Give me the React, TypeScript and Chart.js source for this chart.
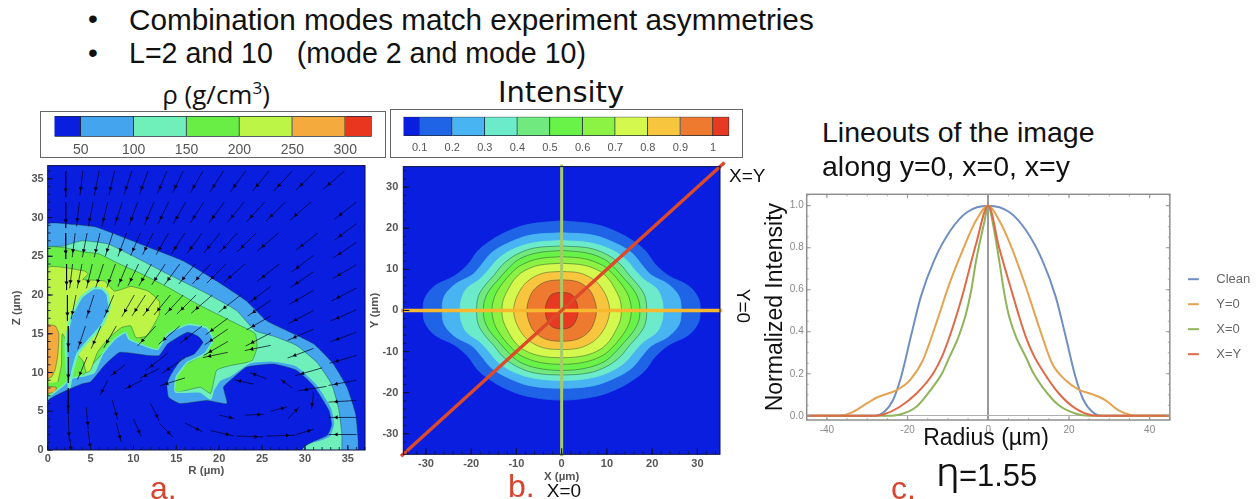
import React, { useEffect, useRef } from "react";
import { Chart, registerables } from "chart.js";

Chart.register(...registerables);

type P = [number, number];

// ---------- Panel c: lineouts ----------
const cleanLine: P[] = [[-45,0],[-30,0],[-28.1,0],[-25.7,0.02],[-23.6,0.075],[-21.6,0.186],[-19.1,0.384],[-16.7,0.567],[-13.4,0.74],[-9.3,0.884],[-5.2,0.97],[0,1],[5.2,0.97],[9.3,0.884],[13.4,0.74],[16.7,0.567],[19.1,0.384],[21.6,0.186],[23.6,0.075],[25.7,0.02],[28.1,0],[30,0],[45,0]];
const y0Line: P[] = [[-45,0],[-38,0],[-35.8,0.003],[-33.4,0.02],[-30,0.06],[-27.6,0.087],[-22.7,0.122],[-19.4,0.17],[-16.2,0.265],[-12.9,0.44],[-9.6,0.63],[-6.3,0.79],[-3,0.93],[0,1],[2.7,0.93],[6,0.79],[9.3,0.614],[13.4,0.376],[15.8,0.25],[19.1,0.17],[22.4,0.125],[25.7,0.103],[29,0.075],[32.2,0.027],[35.5,0.003],[38,0],[45,0]];
const x0Line: P[] = [[-45,0],[-25,0],[-21.9,0.006],[-17.8,0.043],[-13.7,0.138],[-11.5,0.2],[-9.6,0.28],[-7.5,0.37],[-5.5,0.487],[-4.2,0.6],[-3,0.74],[-1,0.92],[0,1],[1.1,0.92],[2.7,0.74],[4,0.58],[5.2,0.47],[7,0.37],[9.3,0.28],[11,0.21],[13.4,0.138],[17.5,0.05],[21.6,0.011],[25,0],[45,0]];
const xyLine: P[] = [[-45,0],[-29,0],[-26,0.006],[-21.9,0.043],[-17.8,0.106],[-13.7,0.2],[-11.5,0.28],[-9.6,0.376],[-8,0.47],[-6.3,0.58],[-3,0.82],[0,1],[2.7,0.8],[6,0.58],[7.7,0.47],[9.3,0.376],[11.2,0.29],[13.4,0.217],[17.5,0.106],[21.6,0.035],[25.7,0.003],[29,0],[45,0]];
const lineNames = ["Clean", "Y=0", "X=0", "X=Y"];
const lineColors = ["#6f8fc4", "#e3a350", "#8fb45a", "#de6a48"];
const xTicksC = [-40, -20, 0, 20, 40];
const yTicksC = [0, 0.2, 0.4, 0.6, 0.8, 1];

// ---------- Panel b: intensity contours (one quadrant of each) ----------
const contoursB: P[][] = [
  [[0,21.8],[7.5,20.9],[12.6,18.9],[16.3,16.5],[18.5,14.5],[20.7,11.2],[23.7,8.4],[28,6],[30.2,3],[30.6,0]],
  [[0,18.9],[7,18.3],[12,16.3],[15.5,14],[17.8,11],[19.8,8.6],[23.5,6.4],[25.9,3.5],[26.4,0]],
  [[0,17],[6,16.5],[10.5,15],[14,12.6],[16.2,9.8],[18.2,7.5],[21,5.3],[22.2,2.5],[22.4,0]],
  [[0,15.7],[6,15.2],[10,13.6],[13,11.2],[15,8.5],[16.8,6.3],[18.4,3.5],[18.8,0]],
  [[0,14.6],[5.5,14],[9.5,12.4],[12,10],[14,7.5],[15.8,5.2],[17,2.6],[17.3,0]],
  [[0,13.1],[5,12.6],[9,11],[11.2,9],[13,6.7],[14.5,4.2],[15.2,2],[15.4,0]],
  [[0,11.5],[5,11],[8.5,9.5],[10.5,7.5],[11.8,5.2],[12.9,2.6],[13.2,0]],
  [[0,9.5],[4,9.1],[7.2,7.4],[9,5.2],[10.2,2.5],[10.6,0]],
  [[0,7.5],[3.5,7],[6,5.2],[7.2,2.8],[7.7,0]],
  [[0,4.5],[2.2,3.9],[3.3,2],[3.6,0]],
];
const colorsB = ["#1f63e6","#49b4f2","#6cebca","#70e97e","#69f248","#8cf243","#d4f84e","#f8c63e","#ee7a30","#e83a22"];
const barEdgesB = [0.05,0.1,0.2,0.3,0.4,0.5,0.6,0.7,0.8,0.9,1,1.05];
const barColorsB = ["#0a1ee0","#1f63e6","#49b4f2","#6cebca","#70e97e","#69f248","#8cf243","#d4f84e","#f8c63e","#ee7a30","#e83a22"];
const barTicksB = [0.1,0.2,0.3,0.4,0.5,0.6,0.7,0.8,0.9,1];
const ticksB = [-30,-20,-10,0,10,20,30];
const lineY0: P[] = [[-35.5,0],[35.5,0]];
const lineX0: P[] = [[0,35.5],[0,-35.5]];
const lineXY: P[] = [[-35.5,-35.5],[36,36]];

// ---------- Panel a: density regions (R, Z in µm) ----------
const shellA: P[] = [[0,0],[0,29.1],[3,29.1],[5.5,28.8],[8,27.8],[11.9,26.1],[15.8,24.4],[19.7,21.8],[23.2,19.2],[25.5,16.7],[27.9,15.4],[31,13.7],[33.3,11.1],[34.9,8.1],[35.9,4.7],[36.2,1.3],[36.2,0]];
const aquaA: P[] = [[0,0],[0,26.1],[1.7,26.3],[4,27],[7,26.6],[10,25],[14,22.7],[18.7,20.1],[22,18],[24.2,15.4],[26.3,14.7],[29,13.5],[31.4,11.3],[33.1,8.5],[33.9,5.5],[34.3,2.1],[34.3,0]];
const greenA: P[] = [[0,6.5],[0,26.1],[2,26.1],[4,25.6],[6,25.3],[8,24.2],[11,22.7],[14,21],[17.5,18.8],[22,16.3],[24.2,15],[24.4,13.2],[23.8,11.5],[21.3,10.9],[19.7,10.3],[19,7.3],[17.8,8.1],[16.2,7.7],[14.9,7.5],[14.9,9.4],[16.2,11.1],[18.3,12.4],[19.3,14.3],[18.5,15.8],[16.3,16.2],[14,15],[12.8,13],[10,14],[8,14],[6,12],[4,9.5],[2.5,8],[1,7]];
const yellowA: P[] = [[0,8.6],[0,23.5],[4.3,23.1],[4.7,22.7],[4.1,22],[6.6,21.8],[7.8,20.5],[9.7,21.1],[11.7,20.5],[13,19.2],[13,17.5],[12.3,16],[11.5,14.7],[10.3,14.5],[9.7,16],[8.6,15.8],[7,14.3],[5.8,12.6],[5,10.3],[4.5,10],[4.1,11.5],[2.5,13.5],[1.7,15],[1.6,11],[1.2,8.8]];
const orangeA: P[] = [[0,16.2],[0.9,16],[1.3,15],[1.2,12.5],[0.9,10.5],[0.5,9.5],[0,9.2]];
const orangeLowA: P[] = [[0,8.2],[1,8.1],[0.9,7.5],[0,7.3]];
const marginA: P[] = [[0,0],[0,6.6],[1.8,8.3],[2.6,9.2],[4.3,9.6],[5.4,10],[6.4,12.4],[7.8,14.3],[9.1,15.2],[9.5,14.3],[11.7,13.3],[12.8,13],[14,15],[16.3,16.2],[18.5,15.8],[19.3,14.3],[18.3,12.4],[16.3,11.3],[15,9.4],[14.9,7.5],[17.8,7.5],[19,6.6],[19.3,7.7],[20.1,9],[21.3,9.6],[23.6,11.3],[26.3,11.5],[29,10.9],[31.4,8.5],[33.1,5.5],[33.5,3.4],[33,1.7],[31.8,1.1],[30.2,0.6],[29.8,0]];
const cavityA: P[] = [[0,0],[0,6.3],[2.2,7.7],[3.9,8.5],[5,8.8],[6.6,10.9],[8.4,12.6],[11.7,12.2],[13,12.2],[14,13.7],[16.3,15.2],[17.5,14.7],[18.1,13.9],[17.1,12.4],[15.6,11.7],[14.4,9.8],[13.9,8.5],[14.1,6.8],[15.4,6],[18.6,6.4],[20.9,6],[20.5,8.1],[21.3,9],[23.2,10.7],[26.3,11.1],[29,10.3],[31,8.3],[32.8,5.1],[33.1,3.2],[32.6,1.9],[31,1.1],[30,0.5],[29.6,0]];
const tearA: P[] = [[7,20.1],[7.2,18.4],[6.4,16.2],[4.9,14.3],[3.5,12.4],[2.9,10.2],[2.5,8.1],[2.1,13.7],[2.7,17.1],[3.9,19.7],[5.4,20.9],[6.4,20.8],[7,20.1]];
const barEdgesA = [25,50,100,150,200,250,300,325];
const barColorsA = ["#0a1ee0","#45a4ee","#6fefb9","#69ee46","#bcf546","#f4aa3c","#e8361f"];
const barTicksA = [50,100,150,200,250,300];
const xTicksA = [0,5,10,15,20,25,30,35];
const yTicksA = [0,5,10,15,20,25,30,35];
// velocity arrows: tail R, tail Z, dR, dZ
const arrowsA: number[][] = [
  [2.1,36,0,-3],[2.1,32,0,-3],[2.1,28,0,-3],[2.2,24,0,-3],[2.3,20,0,-3],[2.4,16,0,-3],[2.4,12,0,-3],[2.4,8,0,-3],[2.4,4.5,0.1,-3],[2.6,1.5,0.1,-1.5],
  [4.1,36,-0.3,-2.8],[3.7,32,-0.3,-2.8],[3.2,28,-0.3,-2.8],[2.9,24,-0.3,-2.8],
  [6,36,-0.5,-2.8],[5.3,32,-0.5,-2.8],[4.6,28,-0.5,-2.8],[4,24,-0.5,-2.8],[3.3,20,-0.5,-2.8],
  [7.8,36,-0.6,-2.8],[7,32,-0.6,-2.8],[6.1,28,-0.6,-2.8],[5.2,24,-0.6,-2.8],
  [9.8,36,-0.8,-2.7],[8.7,32,-0.8,-2.7],[7.6,28,-0.8,-2.7],[6.5,24,-0.8,-2.7],[5.4,20,-0.8,-2.7],[4.4,16,-0.8,-2.7],
  [11.7,36,-0.9,-2.7],[10.5,32,-0.9,-2.7],[9.2,28,-0.9,-2.7],[7.9,24,-0.9,-2.7],
  [13.9,36,-1,-2.6],[12.4,32,-1,-2.6],[10.8,28,-1,-2.6],[9.3,24,-1,-2.6],[7.7,20,-1,-2.6],[6.2,16,-1,-2.6],[4.6,12,-1,-2.6],
  [15.8,36,-1.1,-2.5],[14.1,32,-1.1,-2.5],[12.3,28,-1.1,-2.5],[10.6,24,-1.1,-2.5],
  [18.1,36,-1.3,-2.5],[16.1,32,-1.3,-2.5],[14.1,28,-1.3,-2.5],[12.1,24,-1.3,-2.5],[10.1,20,-1.3,-2.5],[8,16,-1.3,-2.5],
  [20.5,36,-1.4,-2.4],[18.2,32,-1.4,-2.4],[16,28,-1.4,-2.4],[13.7,24,-1.4,-2.4],[11.4,20,-1.4,-2.4],
  [23.1,36,-1.6,-2.4],[20.6,32,-1.6,-2.4],[18,28,-1.6,-2.4],[15.4,24,-1.6,-2.4],[12.9,20,-1.6,-2.4],
  [25.8,36,-1.7,-2.3],[22.9,32,-1.7,-2.3],[20.1,28,-1.7,-2.3],[17.2,24,-1.7,-2.3],[14.3,20,-1.7,-2.3],
  [28.5,36,-1.9,-2.3],[25.3,32,-1.9,-2.3],[22.1,28,-1.9,-2.3],[19,24,-1.9,-2.3],[15.8,20,-1.9,-2.3],[12.6,16,-1.9,-2.3],
  [31.2,36,-2,-2.2],[27.7,32,-2,-2.2],[24.3,28,-2,-2.2],[20.8,24,-2,-2.2],[17.3,20,-2,-2.2],
  [34.6,36,-2.2,-2.1],[30.7,32,-2.2,-2.1],[26.9,28,-2.2,-2.1],[23,24,-2.2,-2.1],[19.2,20,-2.2,-2.1],[15.4,16,-2.2,-2.1],
  [36,32,-2.3,-2],[31.5,28,-2.3,-2],[27,24,-2.3,-2],[22.5,20,-2.3,-2],[18,16,-2.3,-2],[14,12.5,-2.3,-2],
  [36,29.2,-2.3,-1.9],[31,25.1,-2.3,-1.9],[26,21.1,-2.3,-1.9],[21,17,-2.3,-1.9],
  [36,26.8,-2.4,-1.8],[31,23,-2.4,-1.8],[26,19.3,-2.4,-1.8],[21,15.6,-2.4,-1.8],[16,11.9,-2.4,-1.8],
  [36,23.9,-2.5,-1.6],[31,20.6,-2.5,-1.6],[26,17.3,-2.5,-1.6],[21,14,-2.5,-1.6],
  [36,20.9,-2.6,-1.5],[31,18,-2.6,-1.5],[26,15.1,-2.6,-1.5],[21,12.6,-2.6,-0.6],[16,9.3,-2.6,-0.9],
  [36,18.1,-2.7,-1.3],[31,15.6,-2.7,-1.3],[26,13.5,-2.7,-0.6],
  [36,15.2,-2.7,-1.1],[31,13.1,-2.7,-1.1],[36,12.2,-2.8,-0.9],[32,10.6,-2.8,-0.9],
  [36,9,-2.9,-0.6],[32.5,8.2,-2.9,-0.5],[36,6.4,-2.9,-0.2],[36,4.2,-2.9,0],[36,2,-2.9,0],
  [4.5,5.5,0.2,-2.5],[4.7,2.5,0.3,-2.3],[7.5,6.5,0.6,-2.3],[8,3.5,0.5,-2.2],[7,9,-0.8,-1.7],[9,11,-1.5,-1.3],[13,10.5,-2,-1.1],[11,9,-1.8,-1],
  [12,6,0.9,-2],[10,4,0.8,-2],[13,3.5,1.4,-1.6],[16,3.5,1.8,-1],[19,2.5,2.4,-0.6],[22,1.8,2.8,-0.1],[25.5,1.8,3,0.1],[29,2,1.8,0.6],[28.5,8,-1.2,1],[31,7.5,-0.2,-2],[24,8.5,-2,0.5],[20,4.5,1.6,-0.4],[23,4.5,2,0.1],[26,5,1.7,0.5],[28,4,1.2,1.4],[25.5,9.2,-1.7,0.7],
];

const labelGray = "#555";
const sansBold = "'Liberation Sans'";

const pts = (a: P[]) => a.map(([x, y]) => ({ x, y }));
// the intensity map is mirror-symmetric: close each quadrant through all four
const closeQuadrant = (q: P[]): P[] => [
  ...q,
  ...[...q].reverse().slice(1).map(([x, y]) => [x, -y] as P),
  ...q.slice(1).map(([x, y]) => [-x, -y] as P),
  ...[...q].reverse().slice(1).map(([x, y]) => [-x, y] as P),
];

const region = (data: P[], color: string, edge = "rgba(20,60,50,0.5)", bw = 0.8, tension = 0.15) => ({
  data: pts(data), showLine: true, fill: "shape", backgroundColor: color, borderColor: edge, borderWidth: bw, pointRadius: 0, tension,
});
// layers listed back-to-front; Chart.js paints the first dataset last, so give each an order
const layered = (list: any[]) => list.map((d, i) => ({ ...d, order: list.length - i }));

const framePlugin = {
  id: "frame",
  beforeDatasetsDraw(chart: any, _a: any, o: any) {
    if (!o.bg) return;
    const { left, top, width, height } = chart.chartArea;
    chart.ctx.fillStyle = o.bg;
    chart.ctx.fillRect(left, top, width, height);
  },
  afterDatasetsDraw(chart: any, _a: any, o: any) {
    if (!o.color) return;
    const { ctx, chartArea: c, scales } = chart;
    ctx.save();
    ctx.strokeStyle = o.color;
    const mark = (s: any, step: number, len: number, lw: number, both: boolean) => {
      ctx.lineWidth = lw;
      const first = Math.ceil(s.min / step);
      const last = Math.floor(s.max / step);
      for (let i = first; i <= last; i++) {
        const p = s.getPixelForValue(i * step);
        ctx.beginPath();
        if (s.isHorizontal()) {
          ctx.moveTo(p, c.bottom); ctx.lineTo(p, c.bottom - len);
          if (both) { ctx.moveTo(p, c.top); ctx.lineTo(p, c.top + len); }
        } else {
          ctx.moveTo(c.left, p); ctx.lineTo(c.left + len, p);
          if (both) { ctx.moveTo(c.right, p); ctx.lineTo(c.right - len, p); }
        }
        ctx.stroke();
      }
    };
    mark(scales.x, o.xMinor, o.minorLen, 0.8, o.both);
    mark(scales.x, o.xMajor, o.majorLen, 1.1, o.both);
    mark(scales.y, o.yMinor, o.minorLen, 0.8, o.both);
    mark(scales.y, o.yMajor, o.majorLen, 1.1, o.both);
    ctx.strokeStyle = o.frame || o.color;
    ctx.lineWidth = o.frameWidth || 1;
    ctx.strokeRect(c.left, c.top, c.right - c.left, c.bottom - c.top);
    ctx.restore();
  },
};

const fixedAxis = (ticks: number[], size: number, o: any) => ({
  type: "linear", min: o.min, max: o.max, position: o.position,
  afterBuildTicks: (s: any) => { s.ticks = ticks.map((value) => ({ value })); },
  afterFit: (s: any) => { if (s.isHorizontal()) s.height = size; else s.width = size; },
  grid: o.grid || { display: false, drawTicks: false },
  border: { display: false },
  ticks: {
    autoSkip: false, maxRotation: 0, minRotation: 0, padding: o.padding, color: o.color || labelGray,
    font: o.font, callback: o.format || ((v: any) => String(v)),
  },
  title: o.title ? { display: true, ...o.title } : { display: false },
});

const base = (padding: any, plugins: any) => ({
  responsive: false, animation: false, events: [], layout: { padding },
  plugins: { legend: { display: false }, tooltip: { enabled: false }, ...plugins },
});

const colorBar = (edges: number[], colors: string[], ticks: number[], pad: any, size: number, tickPad: number, font: any, fmt?: any) => ({
  type: "bar",
  data: {
    labels: ["scale"],
    datasets: colors.map((c, i) => ({
      data: [[edges[i], edges[i + 1]]], backgroundColor: c, borderColor: "#1d2a3a", borderWidth: 1,
      barPercentage: 1, categoryPercentage: 1, grouped: false,
    })),
  },
  options: {
    ...base(pad, {}), indexAxis: "y",
    scales: {
      y: { display: false },
      x: fixedAxis(ticks, size, { min: edges[0], max: edges[edges.length - 1], padding: tickPad, font, format: fmt }),
    },
  },
});

const arrowScale = 1.12;
const arrowSegments = arrowsA.flatMap(([x, y, dx, dy]) => [{ x, y }, { x: x + dx * arrowScale, y: y + dy * arrowScale }, { x: null, y: null }]);
const arrowHeads = arrowsA.map(([x, y, dx, dy]) => ({ x: x + dx * arrowScale * 0.72, y: y + dy * arrowScale * 0.72 }));
const arrowAngles = arrowsA.map(([, , dx, dy]) => (Math.atan2(dx, dy) * 180) / Math.PI);

const panelA = {
  type: "scatter",
  data: {
    datasets: layered([
      region(shellA, "#45a4ee"),
      region(aquaA, "#6fefb9"),
      region(greenA, "#69ee46"),
      region(yellowA, "#bcf546"),
      region(orangeA, "#f4aa3c"),
      region(orangeLowA, "#f4aa3c"),
      region(marginA, "#45a4ee", "#6fefb9", 1.6),
      region(tearA, "#45a4ee", "#6fefb9", 2.6),
      region(cavityA, "#0a1ee0"),
      { data: arrowSegments, showLine: true, borderColor: "rgba(0,0,30,0.7)", borderWidth: 1, pointRadius: 0, spanGaps: false },
      { data: arrowHeads, showLine: false, pointStyle: "triangle", rotation: arrowAngles, pointRadius: 2.4, backgroundColor: "#000018", borderWidth: 0 },
    ]),
  },
  options: {
    ...base({ top: 8, right: 20 }, {
      frame: { bg: "#0a1ee0", color: "#0b1040", xMajor: 5, xMinor: 1, yMajor: 5, yMinor: 1, majorLen: 5, minorLen: 3, both: false },
    }),
    scales: {
      x: fixedAxis(xTicksA, 40, {
        min: 0, max: 37, padding: 2, font: { family: sansBold, size: 11, weight: "bold" },
        title: { text: "R (µm)", font: { family: sansBold, size: 11.5, weight: "bold" }, color: labelGray, padding: { bottom: 12, top: 0 } },
      }),
      y: fixedAxis(yTicksA, 47.7, {
        min: 0, max: 36.7, padding: 4, font: { family: sansBold, size: 11, weight: "bold" },
        title: { text: "Z (µm)", font: { family: sansBold, size: 11.5, weight: "bold" }, color: labelGray, padding: { top: 10, bottom: 0 } },
      }),
    },
  },
};

const guide = (data: P[], color: string, w: number) => ({
  data: pts(data), showLine: true, borderColor: color, borderWidth: w, pointRadius: 0, clip: false,
});

const panelB = {
  type: "scatter",
  data: {
    datasets: layered([
      ...contoursB.map((q, i) => region(closeQuadrant(q), colorsB[i], i < 3 ? colorsB[i] : "rgba(20,50,40,0.45)", 0.9, 0.35)),
      guide(lineX0, "#a6c96a", 3),
      guide(lineY0, "#f5b82e", 3.4),
      guide(lineXY, "#dc4a2a", 3.4),
    ]),
  },
  options: {
    ...base({ top: 9.3, right: 12 }, {
      frame: { bg: "#0a1ee0", color: "#0b1040", xMajor: 10, xMinor: 2, yMajor: 10, yMinor: 2, majorLen: 6, minorLen: 3, both: false },
    }),
    scales: {
      x: fixedAxis(ticksB, 40.7, {
        min: -35, max: 35, padding: 3, font: { family: sansBold, size: 11, weight: "bold" },
        title: { text: "X (µm)", font: { family: sansBold, size: 11.5, weight: "bold" }, color: labelGray, padding: { bottom: 11, top: 0 } },
      }),
      y: fixedAxis(ticksB, 41.3, {
        min: -35, max: 35, padding: 5, font: { family: sansBold, size: 11, weight: "bold" },
        title: { text: "Y (µm)", font: { family: sansBold, size: 11.5, weight: "bold" }, color: labelGray, padding: { top: 6, bottom: 0 } },
      }),
    },
  },
};

const legendLine = (color: string) => {
  const c = document.createElement("canvas");
  c.width = 22; c.height = 4;
  const g = c.getContext("2d")!;
  g.fillStyle = color;
  g.fillRect(0, 1, 11, 2);
  return c;
};

const panelC = {
  type: "scatter",
  data: {
    datasets: [cleanLine, y0Line, x0Line, xyLine].map((d, i) => ({
      label: lineNames[i], data: pts(d), showLine: true, borderColor: lineColors[i], borderWidth: 2, pointRadius: 0,
      cubicInterpolationMode: "monotone", order: 4 - i,
    })),
  },
  options: {
    ...base({ top: 24.3 }, {
      frame: { color: "#9a9a9a", frame: "#8f8f8f", frameWidth: 1.5, xMajor: 20, xMinor: 5, yMajor: 0.2, yMinor: 0.05, majorLen: 4, minorLen: 2, both: true },
      legend: {
        display: true, position: "right", align: "center",
        labels: {
          usePointStyle: true, pointStyleWidth: 22, padding: 12, color: "#666", font: { family: "'Liberation Sans'", size: 13 },
          generateLabels: (chart: any) => chart.data.datasets.map((d: any, i: number) => ({
            text: d.label, fontColor: "#666", pointStyle: legendLine(d.borderColor), lineWidth: 0, strokeStyle: "transparent", fillStyle: "transparent", datasetIndex: i, hidden: false,
          })),
        },
      },
    }),
    scales: {
      x: fixedAxis(xTicksC, 19, {
        min: -45, max: 45, padding: 4, color: "#8a8a8a", font: { family: "'Liberation Sans'", size: 10 },
        grid: { drawTicks: false, color: (c: any) => (c.tick && c.tick.value === 0 ? "#9a9a9a" : "transparent"), lineWidth: 2 },
      }),
      y: fixedAxis(yTicksC, 46.7, {
        min: -0.02, max: 1.054, padding: 3, color: "#8a8a8a", font: { family: "'Liberation Sans'", size: 10 },
        format: (v: any) => Number(v).toFixed(1),
        grid: { drawTicks: false, color: (c: any) => (c.tick && c.tick.value === 0 ? "#b0b0b0" : "transparent"), lineWidth: 1 },
        title: { text: "Normalized Intensity", font: { family: "'Liberation Sans'", size: 23 }, color: "#111", padding: { top: 2, bottom: 0 } },
      }),
      pad: {
        type: "linear", position: "right", display: true, ticks: { display: false }, grid: { display: false }, border: { display: false },
        afterFit: (s: any) => { s.width = 6; },
      },
    },
  },
};

const barA = colorBar(barEdgesA, barColorsA, barTicksA, { left: 14.3, right: 14.3, top: 5 }, 21.3, 5, { family: "'Liberation Sans'", size: 14 });
const barB = colorBar(barEdgesB, barColorsB, barTicksB, { left: 13.3, right: 13.7, top: 7.7 }, 22, 5, { family: "'Liberation Sans'", size: 11 });

function ChartBox({ config, x, y, w, h }: any) {
  const ref = useRef<HTMLCanvasElement>(null);
  useEffect(() => {
    const chart = new Chart(ref.current!, { ...config, plugins: [framePlugin] });
    return () => chart.destroy();
  }, [config]);
  return <canvas ref={ref} width={w} height={h} style={{ position: "absolute", left: x, top: y, width: w, height: h }} />;
}

function Label({ x, y, size, font = "'Liberation Sans'", color = "#111", rot = 0, anchor = "left", children }: any) {
  const shift = anchor === "left" ? "0" : "-50%";
  return (
    <div style={{ position: "absolute", left: x, top: y, fontFamily: font, fontSize: size, color, whiteSpace: "pre", lineHeight: 1, transform: `translate(${shift},-50%) rotate(${rot}deg)` }}>
      {children}
    </div>
  );
}

const boxStyle = (x: number, y: number, w: number, h: number): any => ({
  position: "absolute", left: x, top: y, width: w, height: h, boxSizing: "border-box", border: "1.5px solid #666",
});

export default function App() {
  const red = "#d9442f";
  return (
    <div style={{ position: "fixed", left: 0, top: 0, width: 1260, height: 499, overflow: "hidden", background: "#fff", filter: "blur(0.45px)" }}>
      <Label x={88} y={19} size={28}>•</Label>
      <Label x={129} y={20} size={29.7}>Combination modes match experiment asymmetries</Label>
      <Label x={88} y={53} size={28}>•</Label>
      <Label x={129} y={53} size={28.6}>L=2 and 10   (mode 2 and mode 10)</Label>

      <Label x={216} y={94} size={26} font="'Open Sans'" anchor="center">ρ (g/cm<sup style={{ fontSize: 17, lineHeight: 0 }}>3</sup>)</Label>
      <Label x={561} y={92} size={29} font="'DejaVu Sans'" anchor="center">Intensity</Label>

      <div style={boxStyle(40, 111, 346, 47)} />
      <div style={boxStyle(390, 109, 353, 49)} />
      <ChartBox config={barA} x={40} y={111} w={346} h={47} />
      <ChartBox config={barB} x={390} y={109} w={353} h={49} />

      <ChartBox config={panelA} x={0} y={155} w={385} h={335} />
      <ChartBox config={panelB} x={362} y={155} w={370} h={340} />
      <ChartBox config={panelC} x={760} y={170} w={499} h={269} />

      <Label x={822} y={132} size={28.5}>Lineouts of the image</Label>
      <Label x={822} y={166} size={28.5}>along y=0, x=0, x=y</Label>
      <Label x={729} y={175} size={19}>X=Y</Label>
      <Label x={743} y={306} size={19} rot={90} anchor="center">Y=0</Label>
      <Label x={564} y={490} size={19} anchor="center">X=0</Label>
      <Label x={986} y={437} size={23} anchor="center">Radius (µm)</Label>
      <Label x={150} y={488} size={32} color={red}>a.</Label>
      <Label x={508} y={486} size={32} color={red}>b.</Label>
      <Label x={891} y={488} size={32} color={red}>c.</Label>
      <Label x={937} y={475} size={31}>Ƞ=1.55</Label>
    </div>
  );
}
